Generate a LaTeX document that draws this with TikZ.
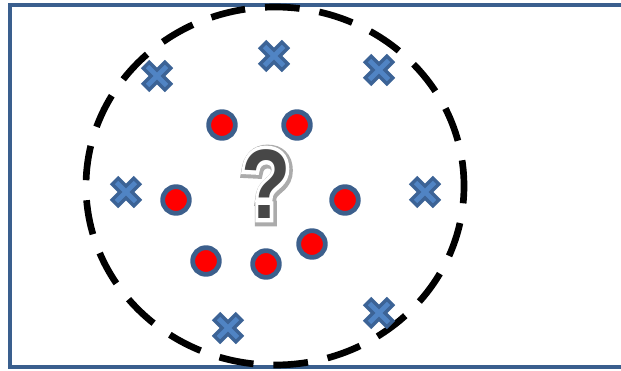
\documentclass[tikz,border=0pt]{standalone}
\usepackage{fontspec}
\setsansfont{Liberation Sans}
\newfontfamily\queryrim[FakeBold=8]{Liberation Sans Bold}
\newfontfamily\queryhalo[FakeBold=13]{Liberation Sans Bold}
\usetikzlibrary{
  arrows.meta,
  positioning,
  calc
}
\definecolor{csFrame}{HTML}{3A5F8E}
\definecolor{csCross}{HTML}{3C6396}
\definecolor{csCrossIn}{HTML}{5084C4}
\definecolor{csRing}{HTML}{3C5F8C}
\definecolor{csDot}{HTML}{FF0000}
\definecolor{csQuery}{HTML}{474747}
\definecolor{csHalo}{HTML}{ABABAB}
\tikzset{
  frame/.style={draw=csFrame, line width=3pt},
  region/.style={draw=black, line width=5pt, dash pattern=on 26pt off 15pt, dash phase=13pt},
  dotnode/.style={
    circle, fill=csDot, draw=csRing, line width=3.6pt,
    minimum size=20pt, inner sep=0pt
  },
  crossmark/.pic={
    \draw[csCross, line width=9pt] (-12,-12) -- (12,12) (-12,12) -- (12,-12);
    \draw[csCrossIn, line width=3.5pt] (-9.5,-9.5) -- (9.5,9.5) (-9.5,9.5) -- (9.5,-9.5);
  },
  querytext/.style={font=\fontsize{74}{74}\selectfont\sffamily\bfseries, inner sep=0pt, xscale=0.82, transform shape},
  queryrimtext/.style={querytext, font=\fontsize{74}{74}\selectfont\queryrim},
  queryhalotext/.style={querytext, font=\fontsize{74}{74}\selectfont\queryhalo}
}

\begin{document}
\begin{tikzpicture}[x=0.75pt, y=-0.75pt]
  \useasboundingbox (0,0) rectangle (621,371);

  % frame, open to the right
  \draw[frame] (623,5) -- (10,5) -- (10,367) -- (623,367);

  % dashed decision region
  \draw[region] (275,186) circle[x radius=189, y radius=179];

  % class A: dots
  \node[dotnode] (d1) at (222,125) {};
  \node[dotnode] (d2) at (297,125) {};
  \node[dotnode] (d3) at (176,200) {};
  \node[dotnode] (d4) at (345,200) {};
  \node[dotnode] (d5) at (206,261) {};
  \node[dotnode] (d6) at (266,264) {};
  \node[dotnode] (d7) at (312,244) {};

  % class B: crosses
  \foreach \cx/\cy in {274/56, 157/76, 379/70, 126/192, 425/192, 228/328, 379/313}
    \pic at (\cx,\cy) {crossmark};

  % unknown sample: shadow, white rim, grey face
  \node[queryhalotext, text=csHalo] (qs) at (267.5,185.5) {?};
  \node[queryrimtext, text=white] (qr) at (266,184) {?};
  \node[querytext, text=csQuery] (q) at (266,184) {?};
\end{tikzpicture}
\end{document}
